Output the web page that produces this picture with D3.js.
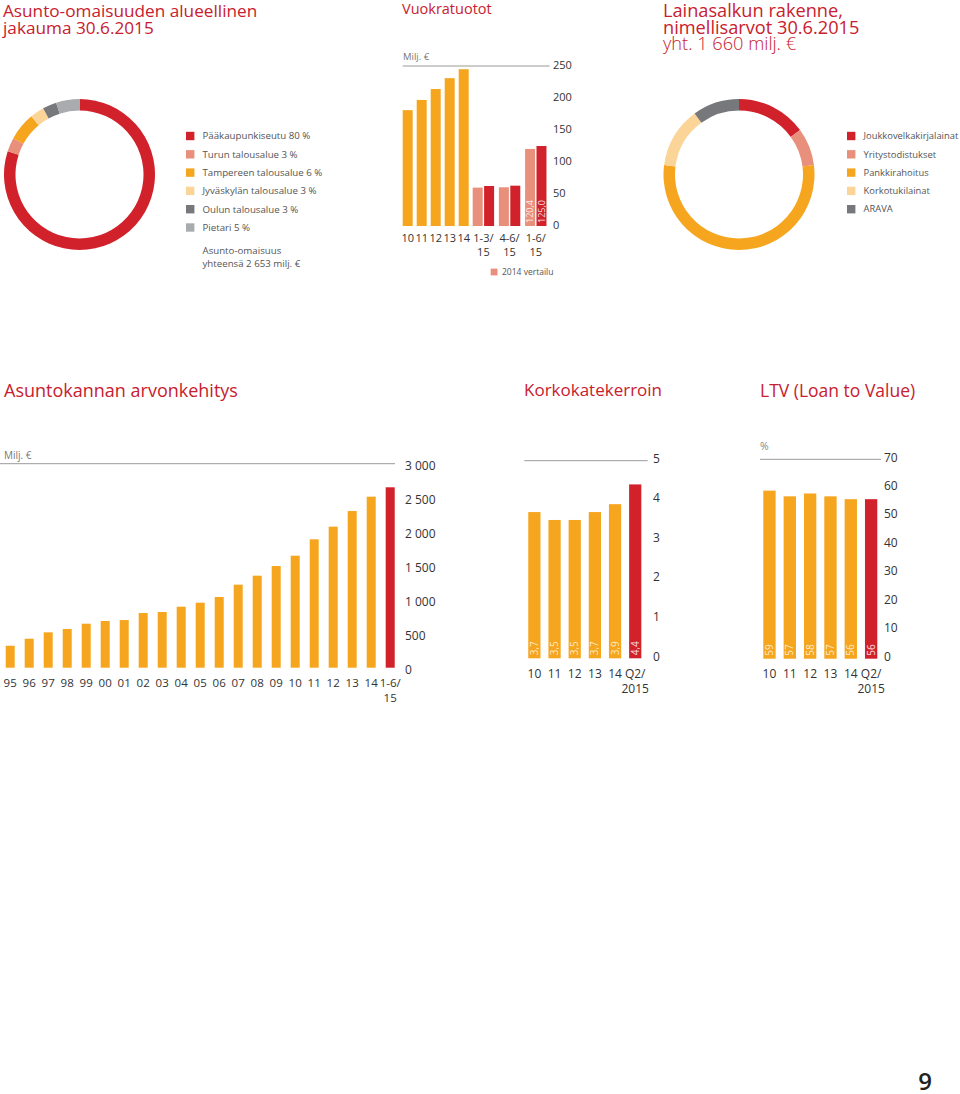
<!DOCTYPE html>
<html><head><meta charset="utf-8">
<script src="https://cdn.jsdelivr.net/npm/d3@7"></script>
<style>
body{margin:0;background:#fff;}
svg text{font-family:"Open Sans",sans-serif;}
</style></head>
<body><svg id="c" width="960" height="1094"></svg>
<script>
// ---------- DATA ----------
const regionLabels = ["Pääkaupunkiseutu 80 %","Turun talousalue 3 %","Tampereen talousalue 6 %","Jyväskylän talousalue 3 %","Oulun talousalue 3 %","Pietari 5 %"];
const regionValues = [80,3,6,3,3,5];

const rentCategories = ["10","11","12","13","14","1-3/|15","4-6/|15","1-6/|15"];
const rent2014 = [null,null,null,null,null,60,60.5,120.4];
const rentValues = [181,197,214,231,245,62.5,63,125.0];
const rentTicks = [0,50,100,150,200,250];

const loanLabels = ["Joukkovelkakirjalainat","Yritystodistukset","Pankkirahoitus","Korkotukilainat","ARAVA"];
const loanValues = [15,8,54,13,10];

const stockYears = ["95","96","97","98","99","00","01","02","03","04","05","06","07","08","09","10","11","12","13","14","1-6/|15"];
const stockValues = [323,426,520,569,647,687,701,804,819,897,956,1040,1221,1353,1495,1647,1888,2074,2304,2515,2653];
const stockTicks = [0,500,1000,1500,2000,2500,3000];

const icrYears = ["10","11","12","13","14","Q2/|2015"];
const icrValues = [3.7,3.5,3.5,3.7,3.9,4.4];
const icrTicks = [0,1,2,3,4,5];

const ltvYears = ["10","11","12","13","14","Q2/|2015"];
const ltvValues = [59,57,58,57,56,56];
const ltvTicks = [0,10,20,30,40,50,60,70];

// ---------- STYLE ----------
const RED="#d1222b", SALMON="#e8907b", ORANGE="#f6a51e", PALE="#fbd598", DGREY="#77787b", LGREY="#a9abae";
const TITLE="#c8202e", TXT="#333", LEG="#555", GRID="#9a9a9a";
const regionColors=[RED,SALMON,ORANGE,PALE,DGREY,LGREY];
const loanColors=[RED,SALMON,ORANGE,PALE,DGREY];

const svg=d3.select("#c");
const fi=d3.formatLocale({decimal:",",thousands:"\u00a0",grouping:[3],currency:["","€"]});
const fmtK=fi.format(",d"), fmt1=fi.format(".1f");

function title(x,y,lines,opts={}){
  lines.forEach((l,i)=>{
    svg.append("text").attr("x",x).attr("y",y+i*(opts.lh||16.5))
      .attr("fill",TITLE).attr("font-size",(opts.sizes&&opts.sizes[i])||opts.size||18).attr("font-weight",(opts.weights&&opts.weights[i])||500)
      .text(l);
  });
}
function multiLabel(g,x,y,str,size){
  const parts=str.split("|");
  const t=g.append("text").attr("x",x).attr("y",y).attr("text-anchor","middle").attr("font-size",size).attr("fill",TXT);
  parts.forEach((p,i)=>t.append("tspan").attr("x",x).attr("dy",i?"1.3em":0).text(p));
}

// ---------- Titles ----------
title(3,17,["Asunto-omaisuuden alueellinen","jakauma 30.6.2015"],{size:17.2,lh:16.5});
title(402,14,["Vuokratuotot"],{size:14.5});
title(663,17,["Lainasalkun rakenne,","nimellisarvot 30.6.2015","yht. 1 660 milj. €"],{size:18.2,lh:16.6,weights:[500,500,300]});
title(4,397,["Asuntokannan arvonkehitys"],{size:18});
title(524,396,["Korkokatekerroin"],{size:17});
title(760,397,["LTV (Loan to Value)"],{size:17.5});

// ---------- Donuts ----------
function donut(cx,cy,values,colors){
  const pie=d3.pie().sort(null).startAngle(0).endAngle(2*Math.PI)(values);
  const arc=d3.arc().innerRadius(64).outerRadius(75.5);
  svg.append("g").attr("transform",`translate(${cx},${cy})`).selectAll("path").data(pie).join("path")
    .attr("d",arc).attr("fill",(d,i)=>colors[i]);
}
function legend(x,y,labels,colors,step,size){
  const g=svg.append("g");
  labels.forEach((l,i)=>{
    g.append("rect").attr("x",x).attr("y",y+i*step-4.2).attr("width",8.4).attr("height",8.4).attr("fill",colors[i]);
    g.append("text").attr("x",x+16.5).attr("y",y+i*step).attr("dy","0.35em").attr("font-size",size).attr("fill",LEG).text(l);
  });
}
donut(79.5,174.5,regionValues,regionColors);
legend(186,136,regionLabels,regionColors,18.3,9.7);
svg.append("text").attr("x",202.5).attr("y",251).attr("dy","0.35em").attr("font-size",9.7).attr("fill",LEG).text("Asunto-omaisuus");
svg.append("text").attr("x",202.5).attr("y",263.5).attr("dy","0.35em").attr("font-size",9.7).attr("fill",LEG).text("yhteensä 2 653 milj. €");

donut(739,174.5,loanValues,loanColors);
legend(847,136,loanLabels,loanColors,18.3,9.4);

// ---------- Vuokratuotot ----------
(function(){
  const g=svg.append("g");
  const unitW=rentCategories.map((c,i)=>rent2014[i]!=null?1.871:1);
  const starts=[];let acc=0;unitW.forEach(w=>{starts.push(acc);acc+=w;});
  const x=d3.scaleLinear().domain([0,acc]).range([402.7,402.7+acc*14]);
  const y=d3.scaleLinear().domain([0,250]).range([226,66]);
  const bw=x(0.714)-x(0);
  g.append("line").attr("x1",402.7).attr("x2",549.5).attr("y1",y(250)).attr("y2",y(250)).attr("stroke",GRID).attr("stroke-width",1);
  g.append("text").attr("x",403).attr("y",57).attr("dy","0.35em").attr("font-size",9.5).attr("fill","#777").text("Milj. €");
  rentTicks.forEach(t=>g.append("text").attr("x",553).attr("y",y(t)-1).attr("dy","0.35em").attr("font-size",11).attr("fill",TXT).text(t));
  rentCategories.forEach((c,i)=>{
    const x0=x(starts[i]);
    if(rent2014[i]!=null){
      g.append("rect").attr("x",x0).attr("width",bw).attr("y",y(rent2014[i])).attr("height",y(0)-y(rent2014[i])).attr("fill",SALMON);
      const x1=x(starts[i]+0.814);
      g.append("rect").attr("x",x1).attr("width",bw).attr("y",y(rentValues[i])).attr("height",y(0)-y(rentValues[i])).attr("fill",RED);
      if(i===rentCategories.length-1){
        [[x0,rent2014[i]],[x1,rentValues[i]]].forEach(([xx,v])=>{
          g.append("text").attr("transform",`translate(${xx+bw/2},${y(0)-3}) rotate(-90)`).attr("dy","0.35em")
            .attr("font-size",9).attr("fill","#fff").attr("fill-opacity",0.85).text(fmt1(v));
        });
      }
      multiLabel(g,(x0+x1+bw)/2,242,c,11);
    } else {
      g.append("rect").attr("x",x0).attr("width",bw).attr("y",y(rentValues[i])).attr("height",y(0)-y(rentValues[i])).attr("fill",ORANGE);
      multiLabel(g,x0+bw/2,242,c,11);
    }
  });
  g.append("rect").attr("x",490.7).attr("y",268.6).attr("width",6.8).attr("height",6.8).attr("fill",SALMON);
  g.append("text").attr("x",502).attr("y",272).attr("dy","0.35em").attr("font-size",8.5).attr("fill",LEG).text("2014 vertailu");
})();

// ---------- Asuntokannan arvonkehitys ----------
(function(){
  const g=svg.append("g");
  const x=d3.scaleBand().domain(stockYears).range([0.7,399.7]).paddingInner(0.526).paddingOuter(0.263);
  const y=d3.scaleLinear().domain([0,3000]).range([667.7,463.7]);
  g.append("line").attr("x1",0).attr("x2",395).attr("y1",y(3000)).attr("y2",y(3000)).attr("stroke",GRID);
  g.append("text").attr("x",4).attr("y",455).attr("dy","0.35em").attr("font-size",10).attr("fill","#777").text("Milj. €");
  stockTicks.forEach(t=>g.append("text").attr("x",405).attr("y",y(t)+2).attr("dy","0.35em").attr("font-size",12).attr("fill",TXT).text(fmtK(t)));
  g.selectAll("rect.b").data(stockYears).join("rect").attr("class","b")
    .attr("x",d=>x(d)).attr("width",x.bandwidth())
    .attr("y",(d,i)=>y(stockValues[i])).attr("height",(d,i)=>y(0)-y(stockValues[i]))
    .attr("fill",(d,i)=>i===stockYears.length-1?RED:ORANGE);
  stockYears.forEach(d=>multiLabel(g,x(d)+x.bandwidth()/2,687,d,11.5));
})();

// ---------- small bar charts ----------
function smallBars(cats,vals,ticks,max,xr,yr,labelX,gridX,fmtV,unit){
  const g=svg.append("g");
  const x=d3.scaleBand().domain(cats).range(xr).paddingInner(0.394).paddingOuter(0.197);
  const y=d3.scaleLinear().domain([0,max]).range(yr);
  g.append("line").attr("x1",gridX[0]).attr("x2",gridX[1]).attr("y1",y(max)).attr("y2",y(max)).attr("stroke",GRID);
  ticks.forEach(t=>g.append("text").attr("x",labelX).attr("y",y(t)-2).attr("dy","0.35em").attr("font-size",12).attr("fill",TXT).text(t));
  cats.forEach((c,i)=>{
    const last=i===cats.length-1;
    g.append("rect").attr("x",x(c)).attr("width",x.bandwidth()).attr("y",y(vals[i])).attr("height",y(0)-y(vals[i])).attr("fill",last?RED:ORANGE);
    g.append("text").attr("transform",`translate(${x(c)+x.bandwidth()/2},${y(0)-3}) rotate(-90)`).attr("dy","0.35em")
      .attr("font-size",10).attr("fill",last?"#fff":"#fff3da").attr("fill-opacity",last?0.85:0.9).text(fmtV(vals[i]));
    multiLabel(g,x(c)+x.bandwidth()/2,677.5,c,12);
  });
  if(unit) g.append("text").attr("x",unit[0]).attr("y",unit[1]).attr("dy","0.35em").attr("font-size",10.5).attr("fill","#888").text(unit[2]);
}
smallBars(icrYears,icrValues,icrTicks,5,[524.3,645.3],[658.3,460.7],653,[524.3,647.7],fmt1,null);
smallBars(ltvYears,ltvValues,ltvTicks,70,[759.3,881.3],[658.7,459.3],884,[760,881],d=>d,[760,446,"%"]);

// page number
svg.append("text").attr("x",925).attr("y",1090).attr("text-anchor","middle").attr("font-size",24).attr("font-weight",600).attr("fill","#222").text("9");
</script></body></html>
